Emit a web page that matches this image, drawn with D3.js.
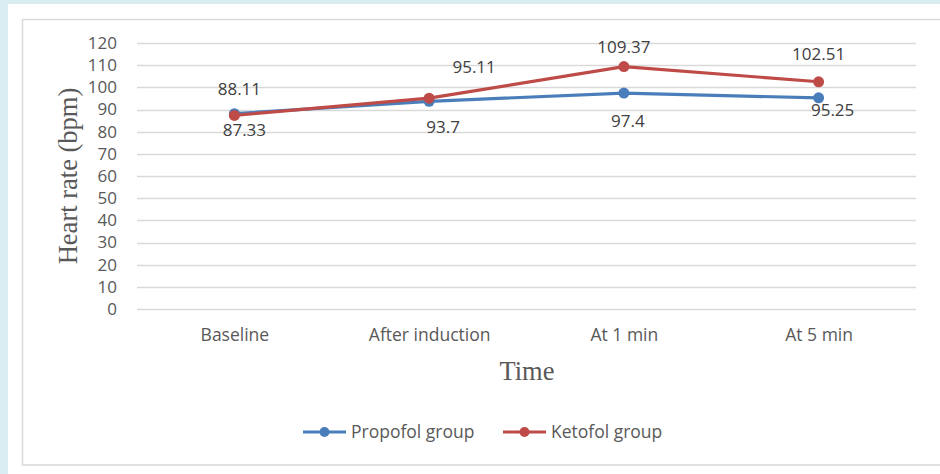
<!DOCTYPE html>
<html>
<head>
<meta charset="utf-8">
<script src="https://cdn.jsdelivr.net/npm/d3@7"></script>
<style>
  html, body { margin: 0; padding: 0; background: #d9ecf2; }
  svg { display: block; }
</style>
</head>
<body>
<svg id="chart" width="940" height="474"></svg>
<script>
const categories = ["Baseline", "After induction", "At 1 min", "At 5 min"];
const propofol = [88.11, 93.7, 97.4, 95.25];
const ketofol = [87.33, 95.11, 109.37, 102.51];
const yTicks = [0, 10, 20, 30, 40, 50, 60, 70, 80, 90, 100, 110, 120];
const seriesNames = ["Propofol group", "Ketofol group"];

// label placement (styling only): offsets relative to each point
const labelOffsets = {
  "Propofol group": [[5, -25], [14, 26], [4, 28], [14, 12]],
  "Ketofol group": [[10, 15], [45, -31], [0, -20], [0, -28]]
};

const colors = ["#4a7ebb", "#be4b48"];
const series = [
  { name: seriesNames[0], values: propofol, color: colors[0] },
  { name: seriesNames[1], values: ketofol, color: colors[1] }
];

(function () {
const svg = d3.select("#chart");
// white panel
svg.append("rect").attr("x", 8).attr("y", 4).attr("width", 932).attr("height", 470).attr("fill", "#ffffff");
svg.append("rect").attr("x", 22.5).attr("y", 19.5).attr("width", 930).attr("height", 445.5)
  .attr("fill", "none").attr("stroke", "#d9d9d9").attr("stroke-width", 1.5);

const pLeft = 137, pRight = 916, pTop = 43, pBottom = 309;
const x = d3.scalePoint().domain(categories).range([pLeft, pRight]).padding(0.5);
const y = d3.scaleLinear().domain([0, 120]).range([pBottom, pTop]);

const sans = "'Open Sans', sans-serif";

// gridlines
svg.append("g").selectAll("line").data(yTicks).join("line")
  .attr("x1", pLeft).attr("x2", pRight)
  .attr("y1", d => Math.round(y(d)) + 0.5).attr("y2", d => Math.round(y(d)) + 0.5)
  .attr("stroke", "#d9d9d9").attr("stroke-width", 1.3);

// y axis labels
const yAxis = d3.axisLeft(y).tickValues(yTicks).tickSize(0).tickPadding(0);
const gy = svg.append("g").attr("transform", `translate(117,0)`).call(yAxis);
gy.select(".domain").remove();
gy.selectAll("text").attr("font-family", sans).attr("font-size", 17)
  .attr("fill", "#595959");

// x axis labels
const xAxis = d3.axisBottom(x).tickSize(0).tickPadding(0);
const gx = svg.append("g").attr("transform", `translate(0,335)`).call(xAxis);
gx.select(".domain").remove();
gx.selectAll("text").attr("font-family", sans).attr("font-size", 17.5)
  .attr("dy", "0.35em").attr("fill", "#595959");

// axis titles
svg.append("text").attr("transform", `translate(77,176) rotate(-90)`)
  .attr("text-anchor", "middle").attr("font-family", "'Liberation Serif', serif")
  .attr("font-size", 26.5).attr("fill", "#595959").text("Heart rate (bpm)");
svg.append("text").attr("x", 527).attr("y", 380)
  .attr("text-anchor", "middle").attr("font-family", "'Liberation Serif', serif")
  .attr("font-size", 26.5).attr("fill", "#595959").text("Time");

const line = d3.line().x((d, i) => x(categories[i])).y(d => y(d));

series.forEach(s => {
  const g = svg.append("g");
  g.append("path").datum(s.values).attr("d", line)
    .attr("fill", "none").attr("stroke", s.color).attr("stroke-width", 3.2)
    .attr("stroke-linejoin", "round").attr("stroke-linecap", "round");
  g.selectAll("circle").data(s.values).join("circle")
    .attr("cx", (d, i) => x(categories[i])).attr("cy", d => y(d)).attr("r", 5.5)
    .attr("fill", s.color);
});

series.forEach(s => {
  svg.append("g").selectAll("text").data(s.values).join("text")
    .attr("x", (d, i) => x(categories[i]) + labelOffsets[s.name][i][0])
    .attr("y", (d, i) => y(d) + labelOffsets[s.name][i][1])
    .attr("dy", "0.35em")
    .attr("text-anchor", "middle").attr("font-family", sans)
    .attr("font-size", 17).attr("fill", "#404040")
    .text(d => d);
});

// legend
const legendX = [303, 503];
series.forEach((s, i) => {
  const g = svg.append("g").attr("transform", `translate(${legendX[i]},432)`);
  g.append("line").attr("x1", 0).attr("x2", 43).attr("y1", 0).attr("y2", 0)
    .attr("stroke", s.color).attr("stroke-width", 3.2);
  g.append("circle").attr("cx", 21.5).attr("cy", 0).attr("r", 5).attr("fill", s.color);
  g.append("text").attr("x", 48).attr("y", 0).attr("dy", "0.35em")
    .attr("font-family", sans).attr("font-size", 17.5)
    .attr("fill", "#595959").text(s.name);
});
})();
</script>
</body>
</html>
